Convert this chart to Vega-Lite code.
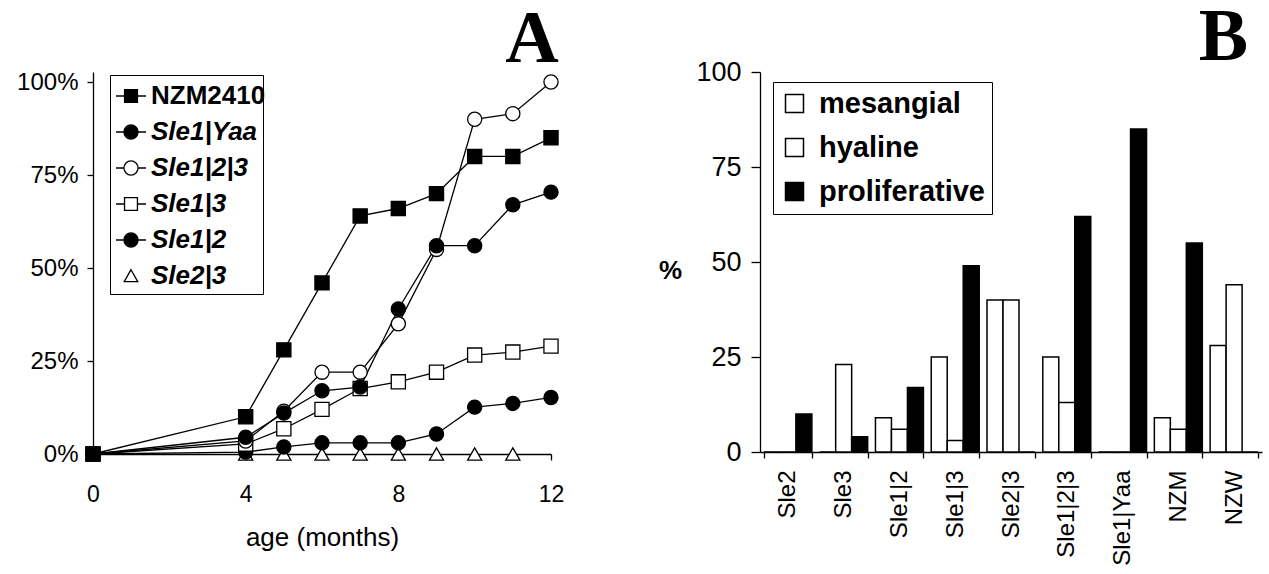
{
  "$schema": "https://vega.github.io/schema/vega-lite/v6.json",
  "background": "white",
  "padding": {"left": 16, "top": 1, "right": 2, "bottom": 2},
  "spacing": 94,
  "resolve": {"scale": {"fill": "independent", "shape": "independent", "stroke": "independent", "x": "independent", "y": "independent"}, "legend": {"fill": "independent", "shape": "independent", "stroke": "independent"}},
  "config": {
    "view": {"stroke": null},
    "font": "Liberation Sans",
    "axis": {"domainColor": "black", "tickColor": "black", "labelColor": "black", "titleColor": "black", "grid": false, "labelFont": "Liberation Sans", "titleFont": "Liberation Sans", "domainWidth": 1.3, "tickWidth": 1.3}
  },
  "hconcat": [
    {
      "width": 458,
      "height": 382,
      "title": {"text": "A", "font": "Liberation Serif", "fontSize": 74, "fontWeight": "bold", "anchor": "end", "color": "black", "offset": -8, "dx": -5},
      "data": {"values": [
        {"series": "Sle2|3", "month": 0, "pct": 0},
        {"series": "Sle2|3", "month": 4, "pct": 0},
        {"series": "Sle2|3", "month": 5, "pct": 0},
        {"series": "Sle2|3", "month": 6, "pct": 0},
        {"series": "Sle2|3", "month": 7, "pct": 0},
        {"series": "Sle2|3", "month": 8, "pct": 0},
        {"series": "Sle2|3", "month": 9, "pct": 0},
        {"series": "Sle2|3", "month": 10, "pct": 0},
        {"series": "Sle2|3", "month": 11, "pct": 0},
        {"series": "Sle1|2", "month": 0, "pct": 0},
        {"series": "Sle1|2", "month": 4, "pct": 0.5},
        {"series": "Sle1|2", "month": 5, "pct": 1.9},
        {"series": "Sle1|2", "month": 6, "pct": 3},
        {"series": "Sle1|2", "month": 7, "pct": 3},
        {"series": "Sle1|2", "month": 8, "pct": 3},
        {"series": "Sle1|2", "month": 9, "pct": 5.4},
        {"series": "Sle1|2", "month": 10, "pct": 12.6},
        {"series": "Sle1|2", "month": 11, "pct": 13.6},
        {"series": "Sle1|2", "month": 12, "pct": 15.2},
        {"series": "Sle1|3", "month": 0, "pct": 0},
        {"series": "Sle1|3", "month": 4, "pct": 2.7},
        {"series": "Sle1|3", "month": 5, "pct": 6.8},
        {"series": "Sle1|3", "month": 6, "pct": 12},
        {"series": "Sle1|3", "month": 7, "pct": 17.6},
        {"series": "Sle1|3", "month": 8, "pct": 19.4},
        {"series": "Sle1|3", "month": 9, "pct": 22},
        {"series": "Sle1|3", "month": 10, "pct": 26.6},
        {"series": "Sle1|3", "month": 11, "pct": 27.4},
        {"series": "Sle1|3", "month": 12, "pct": 29},
        {"series": "NZM2410", "month": 0, "pct": 0},
        {"series": "NZM2410", "month": 4, "pct": 10},
        {"series": "NZM2410", "month": 5, "pct": 28},
        {"series": "NZM2410", "month": 6, "pct": 46},
        {"series": "NZM2410", "month": 7, "pct": 64},
        {"series": "NZM2410", "month": 8, "pct": 66},
        {"series": "NZM2410", "month": 9, "pct": 70},
        {"series": "NZM2410", "month": 10, "pct": 80},
        {"series": "NZM2410", "month": 11, "pct": 80},
        {"series": "NZM2410", "month": 12, "pct": 85},
        {"series": "Sle1|2|3", "month": 0, "pct": 0},
        {"series": "Sle1|2|3", "month": 4, "pct": 3.5},
        {"series": "Sle1|2|3", "month": 5, "pct": 11.5},
        {"series": "Sle1|2|3", "month": 6, "pct": 22},
        {"series": "Sle1|2|3", "month": 7, "pct": 22},
        {"series": "Sle1|2|3", "month": 8, "pct": 35},
        {"series": "Sle1|2|3", "month": 9, "pct": 55},
        {"series": "Sle1|2|3", "month": 10, "pct": 90},
        {"series": "Sle1|2|3", "month": 11, "pct": 91.5},
        {"series": "Sle1|2|3", "month": 12, "pct": 100},
        {"series": "Sle1|Yaa", "month": 0, "pct": 0},
        {"series": "Sle1|Yaa", "month": 4, "pct": 4.5},
        {"series": "Sle1|Yaa", "month": 5, "pct": 11},
        {"series": "Sle1|Yaa", "month": 6, "pct": 17},
        {"series": "Sle1|Yaa", "month": 7, "pct": 18},
        {"series": "Sle1|Yaa", "month": 8, "pct": 39},
        {"series": "Sle1|Yaa", "month": 9, "pct": 56},
        {"series": "Sle1|Yaa", "month": 10, "pct": 56},
        {"series": "Sle1|Yaa", "month": 11, "pct": 67},
        {"series": "Sle1|Yaa", "month": 12, "pct": 70.4}
      ]},
      "resolve": {"scale": {"fill": "independent", "shape": "independent", "stroke": "independent"}, "legend": {"fill": "independent", "shape": "independent", "stroke": "independent"}},
      "encoding": {
        "x": {"field": "month", "type": "quantitative", "scale": {"domain": [0, 12], "nice": false},
          "axis": {"title": "age (months)", "values": [0, 4, 8, 12], "labelFlush": false, "titleFontSize": 26, "titleFontWeight": "normal", "titlePadding": 18, "labelFontSize": 23, "tickSize": 6, "labelPadding": 23}},
        "y": {"field": "pct", "type": "quantitative", "scale": {"domain": [0, 102.7], "nice": false, "zero": true},
          "axis": {"title": null, "values": [0, 25, 50, 75, 100], "labelExpr": "datum.value + '%'", "labelFontSize": 24, "tickSize": 6, "labelPadding": 9}}
      },
      "layer": [
        {
          "transform": [{"filter": "datum.series != 'Sle2|3'"}],
          "mark": {"type": "line", "color": "black", "strokeWidth": 1.3},
          "encoding": {"detail": {"field": "series"}}
        },
        {
          "mark": {"type": "point", "filled": true, "stroke": "black", "strokeWidth": 1.3, "size": 200, "opacity": 1},
          "encoding": {
            "shape": {"condition": [{"test": "datum.series == 'NZM2410' || datum.series == 'Sle1|3'", "value": "square"}, {"test": "datum.series == 'Sle2|3'", "value": "triangle-up"}], "value": "circle"},
            "fill": {"condition": {"test": "datum.series == 'NZM2410' || datum.series == 'Sle1|Yaa' || datum.series == 'Sle1|2'", "value": "black"}, "value": "white"}
          }
        },
        {
          "transform": [{"filter": "false"}],
          "mark": {"type": "point", "filled": true, "opacity": 1},
          "encoding": {
            "shape": {"field": "series", "type": "nominal",
              "scale": {"domain": ["", "Sle1|Yaa", "Sle1|2|3", "Sle1|3", "Sle1|2", "Sle2|3"], "range": ["M0,0", "M-1,0H1M0.47,0A0.47,0.47 0 1,1 -0.47,0A0.47,0.47 0 1,1 0.47,0Z", "M-1,0H-0.47M0.47,0H1M0.47,0A0.47,0.47 0 1,1 -0.47,0A0.47,0.47 0 1,1 0.47,0Z", "M-1,0H-0.43M0.43,0H1M-0.43,-0.43H0.43V0.43H-0.43Z", "M-1,0H1M0.47,0A0.47,0.47 0 1,1 -0.47,0A0.47,0.47 0 1,1 0.47,0Z", "M0,-0.42L0.45,0.38L-0.45,0.38Z"]},
              "legend": {"title": null, "orient": "none", "legendX": 17, "legendY": 3, "strokeColor": "black", "fillColor": "white", "padding": 5, "labelFont": "Liberation Sans", "labelFontSize": 26, "labelFontWeight": "bold", "labelFontStyle": "italic", "labelColor": "black", "symbolSize": 900, "symbolStrokeWidth": 1.3, "symbolOpacity": 1, "rowPadding": 7, "labelOffset": 4, "labelLimit": 300, "zindex": 1}},
            "fill": {"field": "series", "type": "nominal",
              "scale": {"domain": ["", "Sle1|Yaa", "Sle1|2|3", "Sle1|3", "Sle1|2", "Sle2|3"], "range": ["white", "black", "white", "white", "black", "white"]},
              "legend": {"title": null, "orient": "none", "legendX": 17, "legendY": 3, "strokeColor": "black", "fillColor": "white", "padding": 5, "labelFont": "Liberation Sans", "labelFontSize": 26, "labelFontWeight": "bold", "labelFontStyle": "italic", "labelColor": "black", "symbolSize": 900, "symbolStrokeWidth": 1.3, "symbolOpacity": 1, "rowPadding": 7, "labelOffset": 4, "labelLimit": 300, "zindex": 1}},
            "stroke": {"field": "series", "type": "nominal",
              "scale": {"domain": ["", "Sle1|Yaa", "Sle1|2|3", "Sle1|3", "Sle1|2", "Sle2|3"], "range": ["black", "black", "black", "black", "black", "black"]},
              "legend": {"title": null, "orient": "none", "legendX": 17, "legendY": 3, "strokeColor": "black", "fillColor": "white", "padding": 5, "labelFont": "Liberation Sans", "labelFontSize": 26, "labelFontWeight": "bold", "labelFontStyle": "italic", "labelColor": "black", "symbolSize": 900, "symbolStrokeWidth": 1.3, "symbolOpacity": 1, "rowPadding": 7, "labelOffset": 4, "labelLimit": 300, "zindex": 1}}
          }
        },
        {
          "transform": [{"filter": "false"}],
          "mark": {"type": "point", "filled": true, "opacity": 1},
          "encoding": {
            "shape": {"field": "series", "type": "nominal",
              "scale": {"domain": ["NZM2410"], "range": ["M-1,0H1M-0.43,-0.43H0.43V0.43H-0.43Z"]},
              "legend": {"title": null, "orient": "none", "legendX": 17, "legendY": 3, "padding": 5, "labelFont": "Liberation Sans", "labelFontSize": 26, "labelFontWeight": "bold", "labelFontStyle": "normal", "labelColor": "black", "symbolSize": 900, "symbolStrokeWidth": 1.3, "symbolOpacity": 1, "rowPadding": 7, "labelOffset": 4, "labelLimit": 300, "zindex": 2}},
            "fill": {"field": "series", "type": "nominal",
              "scale": {"domain": ["NZM2410"], "range": ["black"]},
              "legend": {"title": null, "orient": "none", "legendX": 17, "legendY": 3, "padding": 5, "labelFont": "Liberation Sans", "labelFontSize": 26, "labelFontWeight": "bold", "labelFontStyle": "normal", "labelColor": "black", "symbolSize": 900, "symbolStrokeWidth": 1.3, "symbolOpacity": 1, "rowPadding": 7, "labelOffset": 4, "labelLimit": 300, "zindex": 2}},
            "stroke": {"field": "series", "type": "nominal",
              "scale": {"domain": ["NZM2410"], "range": ["black"]},
              "legend": {"title": null, "orient": "none", "legendX": 17, "legendY": 3, "padding": 5, "labelFont": "Liberation Sans", "labelFontSize": 26, "labelFontWeight": "bold", "labelFontStyle": "normal", "labelColor": "black", "symbolSize": 900, "symbolStrokeWidth": 1.3, "symbolOpacity": 1, "rowPadding": 7, "labelOffset": 4, "labelLimit": 300, "zindex": 2}}
          }
        }
      ]
    },
    {
      "width": 502,
      "height": 380,
      "title": {"text": "B", "font": "Liberation Serif", "fontSize": 74, "fontWeight": "bold", "anchor": "end", "color": "black", "offset": -18, "dx": -14},
      "data": {"values": [
        {"strain": "Sle2", "type": "mesangial", "value": 0},
        {"strain": "Sle2", "type": "hyaline", "value": 0},
        {"strain": "Sle2", "type": "proliferative", "value": 10},
        {"strain": "Sle3", "type": "mesangial", "value": 0},
        {"strain": "Sle3", "type": "hyaline", "value": 23},
        {"strain": "Sle3", "type": "proliferative", "value": 4},
        {"strain": "Sle1|2", "type": "mesangial", "value": 9},
        {"strain": "Sle1|2", "type": "hyaline", "value": 6},
        {"strain": "Sle1|2", "type": "proliferative", "value": 17},
        {"strain": "Sle1|3", "type": "mesangial", "value": 25},
        {"strain": "Sle1|3", "type": "hyaline", "value": 3},
        {"strain": "Sle1|3", "type": "proliferative", "value": 49},
        {"strain": "Sle2|3", "type": "mesangial", "value": 40},
        {"strain": "Sle2|3", "type": "hyaline", "value": 40},
        {"strain": "Sle2|3", "type": "proliferative", "value": 0},
        {"strain": "Sle1|2|3", "type": "mesangial", "value": 25},
        {"strain": "Sle1|2|3", "type": "hyaline", "value": 13},
        {"strain": "Sle1|2|3", "type": "proliferative", "value": 62},
        {"strain": "Sle1|Yaa", "type": "mesangial", "value": 0},
        {"strain": "Sle1|Yaa", "type": "hyaline", "value": 0},
        {"strain": "Sle1|Yaa", "type": "proliferative", "value": 85},
        {"strain": "NZM", "type": "mesangial", "value": 9},
        {"strain": "NZM", "type": "hyaline", "value": 6},
        {"strain": "NZM", "type": "proliferative", "value": 55},
        {"strain": "NZW", "type": "mesangial", "value": 28},
        {"strain": "NZW", "type": "hyaline", "value": 44},
        {"strain": "NZW", "type": "proliferative", "value": 0}
      ]},
      "mark": {"type": "bar", "stroke": "black", "strokeWidth": 1.5},
      "encoding": {
        "x": {"field": "strain", "type": "nominal", "sort": null,
          "scale": {"paddingInner": 0.14, "paddingOuter": 0.07},
          "axis": {"title": null, "labelAngle": -90, "labelFontSize": 24, "tickSize": 6, "labelPadding": 12, "tickBand": "extent"}},
        "xOffset": {"field": "type", "type": "nominal", "sort": ["mesangial", "hyaline", "proliferative"]},
        "y": {"field": "value", "type": "quantitative", "scale": {"domain": [0, 100], "nice": false},
          "axis": {"title": "%", "titleAngle": 0, "titleFontSize": 26, "titleFontWeight": "bold", "titleX": -90, "titleY": 198, "titleAlign": "center", "titleBaseline": "middle", "values": [0, 25, 50, 75, 100], "labelFontSize": 27, "tickSize": 9, "labelPadding": 10}},
        "fill": {"field": "type", "type": "nominal",
          "scale": {"domain": ["mesangial", "hyaline", "proliferative"], "range": ["white", "white", "black"]},
          "legend": {"title": null, "orient": "none", "legendX": 13, "legendY": 10, "strokeColor": "black", "fillColor": "white", "padding": 7, "labelFont": "Liberation Sans", "labelFontSize": 29, "labelFontWeight": "bold", "labelColor": "black", "symbolType": "square", "symbolSize": 324, "symbolStrokeColor": "black", "symbolStrokeWidth": 1.5, "rowPadding": 14, "labelOffset": 10, "labelLimit": 300}}
      }
    }
  ]
}
